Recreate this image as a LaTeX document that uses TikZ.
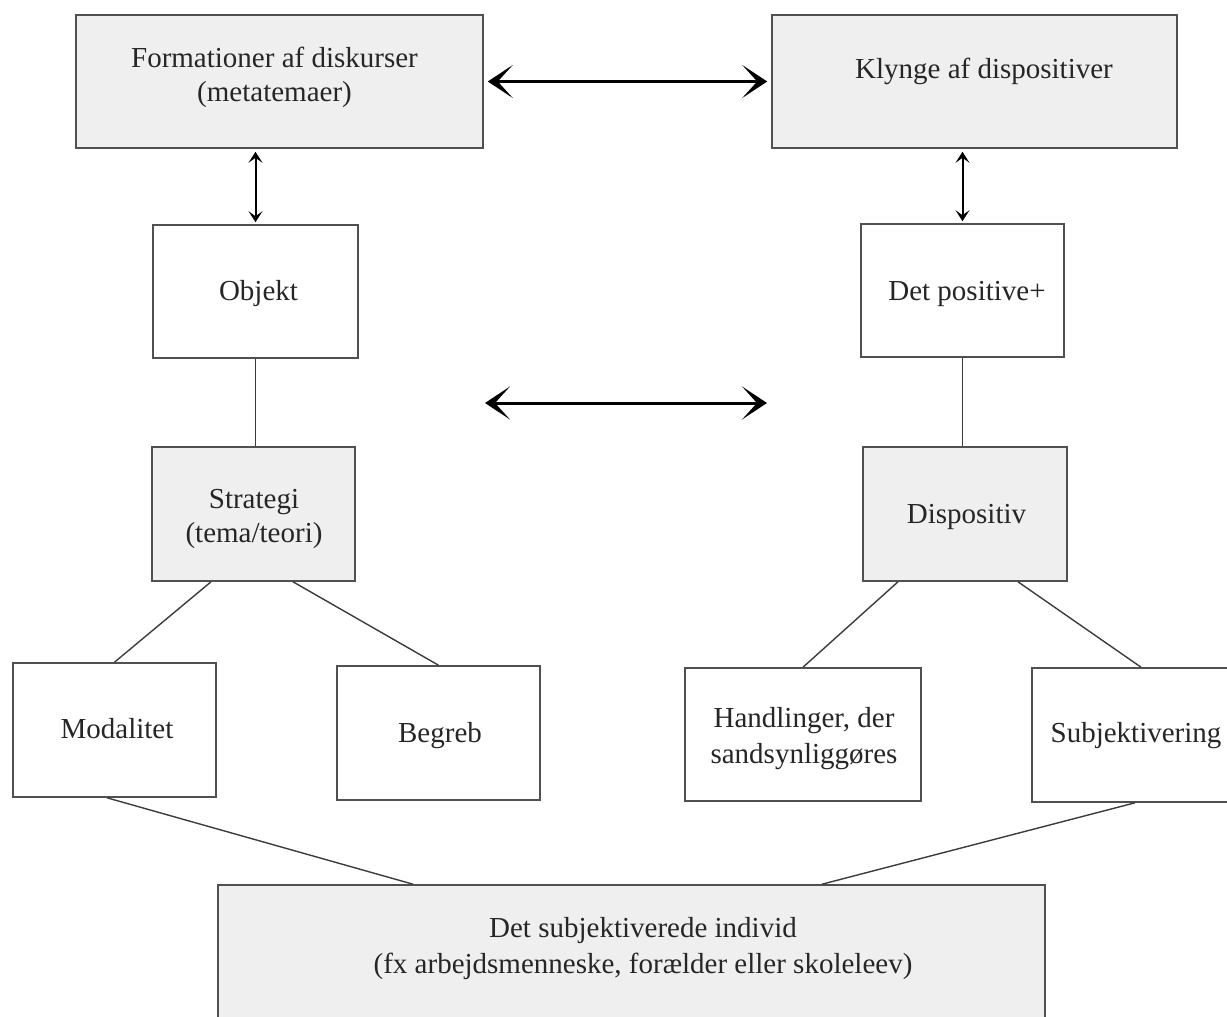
\documentclass[tikz,border=0pt]{standalone}
\usepackage{fontspec}
\setmainfont{Liberation Serif}
\usetikzlibrary{arrows.meta,calc}
\definecolor{boxfill}{RGB}{239,239,239}
\definecolor{boxline}{RGB}{80,80,80}
\definecolor{conline}{RGB}{60,60,60}
\begin{document}
\begin{tikzpicture}[x=1pt,y=-1pt,
  wbox/.style={draw=boxline,line width=1.6pt,fill=white,inner sep=0pt,minimum width=#1},
  gbox/.style={draw=boxline,line width=1.6pt,fill=boxfill,inner sep=0pt,minimum width=#1},
  txt/.style={inner sep=0pt,align=center,font=\fontsize{29}{34}\selectfont,text=black!85},
  bigarrow/.style={line width=3pt,{Stealth[length=25pt,width=33pt,inset=15pt]}-{Stealth[length=25pt,width=33pt,inset=15pt]}},
  smallarrow/.style={line width=2pt,{Stealth[length=11pt,width=14pt,inset=5pt]}-{Stealth[length=11pt,width=14pt,inset=5pt]}},
  conn/.style={draw=conline,line width=1.4pt}]
\useasboundingbox (0,0) rectangle (1227,1017);
\clip (0,0) rectangle (1227,1017);
\fill[white] (0,0) rectangle (1227,1017);

% boxes
\node[gbox=407pt,minimum height=133pt] (f) at (279.5,81.5) {};
\node[gbox=405pt,minimum height=133pt] (k) at (974.5,81.5) {};
\node[wbox=205pt,minimum height=133pt] (o) at (255.5,291.5) {};
\node[wbox=203pt,minimum height=133pt] (p) at (962.5,290.5) {};
\node[gbox=203pt,minimum height=134pt] (s) at (253.5,514) {};
\node[gbox=204pt,minimum height=134pt] (d) at (965,514) {};
\node[wbox=203pt,minimum height=134pt] (m) at (114.5,730) {};
\node[wbox=203pt,minimum height=134pt] (b) at (438.5,733) {};
\node[wbox=236pt,minimum height=133pt] (h) at (803,734.5) {};
\node[wbox=218pt,minimum height=134pt] (sj) at (1141,735) {};
\node[gbox=827pt,minimum height=155pt] (u) at (631.5,962.5) {};

% texts (anchor base = baseline of the last line)
\node[txt,anchor=base] (ft) at (274.5,101) {Formationer af diskurser\\(metatemaer)};
\node[txt,anchor=base] (kt) at (984,78) {Klynge af dispositiver};
\node[txt,anchor=base] (ot) at (258.5,300) {Objekt};
\node[txt,anchor=base] (pt) at (967,300) {Det positive+};
\node[txt,anchor=base] (st) at (254,542) {Strategi\\(tema/teori)};
\node[txt,anchor=base] (dt) at (966.5,523) {Dispositiv};
\node[txt,anchor=base] (mt) at (117,738) {Modalitet};
\node[txt,anchor=base] (bt) at (440,742) {Begreb};
\node[txt,anchor=base,font=\fontsize{29}{36}\selectfont] (ht) at (804,763) {Handlinger, der\\sandsynliggøres};
\node[txt,anchor=base] (sjt) at (1136,742) {Subjektivering};
\node[txt,anchor=base,font=\fontsize{29}{36}\selectfont] (ut) at (643,973) {Det subjektiverede individ\\(fx arbejdsmenneske, forælder eller skoleleev)};

% free ends of the middle arrow
\coordinate (ml) at (485,403);
\coordinate (mr) at (767,403);

% arrows
\draw[bigarrow,shorten <=4pt,shorten >=4pt] (f.east) -- (k.west);
\draw[bigarrow] (ml) -- (mr);
\draw[smallarrow,shorten <=3pt,shorten >=2pt] (o.north |- f.south) -- (o.north);
\draw[smallarrow,shorten <=3pt,shorten >=2pt] (p.north |- k.south) -- (p.north);

% connectors
\draw[conn] (o.south) -- (o.south |- s.north);
\draw[conn] (p.south) -- (p.south |- d.north);
\draw[conn] ([xshift=-42.5pt]s.south) -- (m.north);
\draw[conn] ([xshift=39.5pt]s.south) -- (b.north);
\draw[conn] ([xshift=-67pt]d.south) -- (h.north);
\draw[conn] ([xshift=53pt]d.south) -- (sj.north);
\draw[conn] ([xshift=-7.5pt]m.south) -- ([xshift=-218.5pt]u.north);
\draw[conn] ([xshift=-6pt]sj.south) -- ([xshift=190.5pt]u.north);
\end{tikzpicture}
\end{document}
